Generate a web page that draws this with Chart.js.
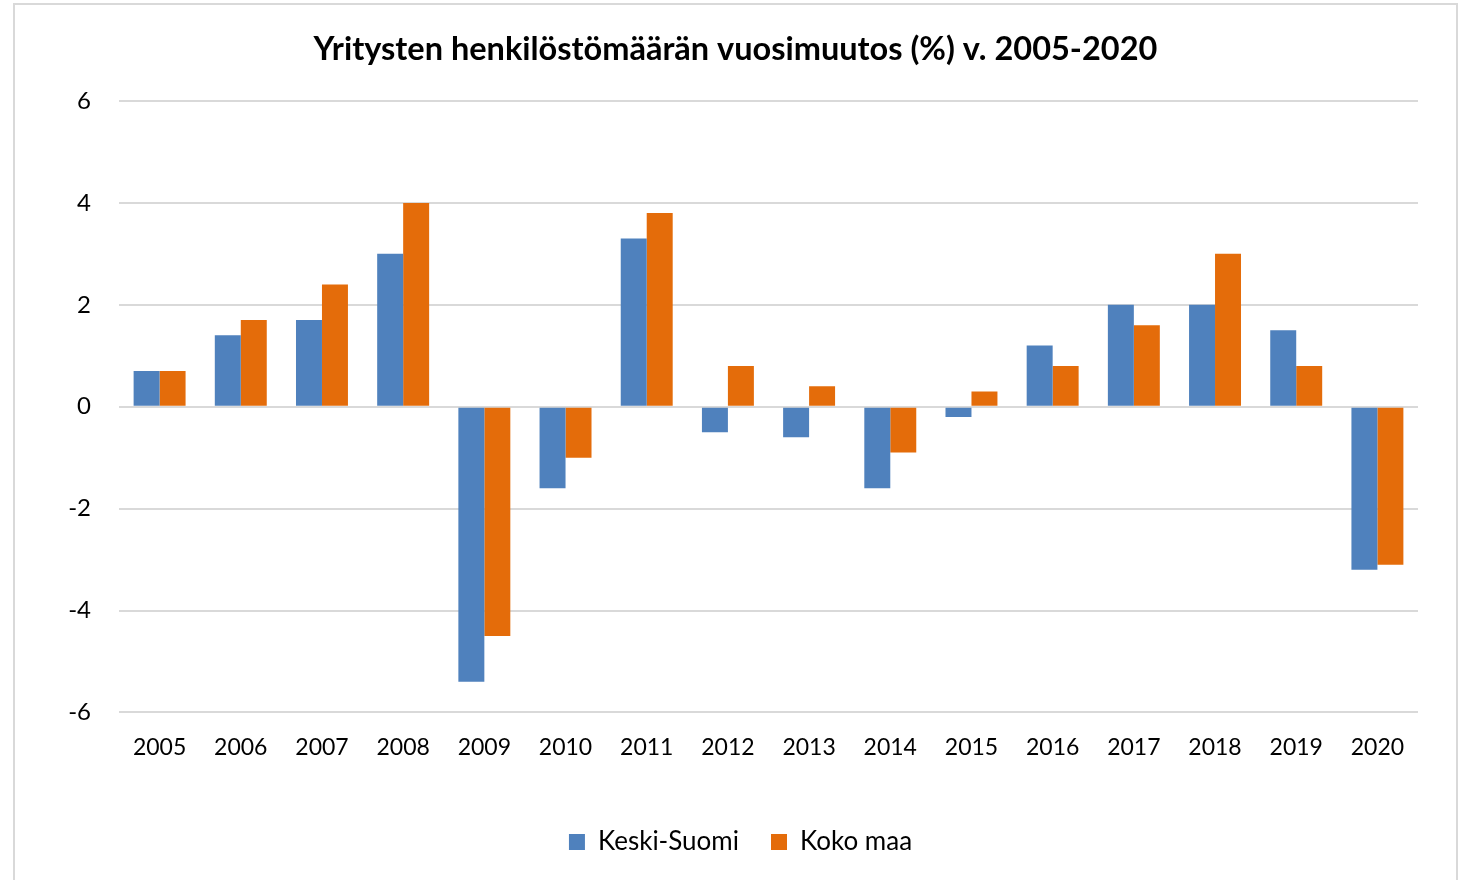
<!DOCTYPE html>
<html>
<head>
<meta charset="utf-8">
<script src="https://cdn.jsdelivr.net/npm/chart.js@4"></script>
<style>
html, body { margin: 0; padding: 0; background: #fff; overflow: hidden; }
#box { position: absolute; left: 13px; top: 3px; width: 1441px; height: 890px; border: 2px solid #d9d9d9; }
canvas { display: block; }
</style>
</head>
<body>
<div id="box"><canvas id="Chart1" width="1441" height="875"></canvas></div>
<script>
var years = ['2005','2006','2007','2008','2009','2010','2011','2012','2013','2014','2015','2016','2017','2018','2019','2020'];
var keskiSuomi = [0.7, 1.4, 1.7, 3.0, -5.4, -1.6, 3.3, -0.5, -0.6, -1.6, -0.2, 1.2, 2.0, 2.0, 1.5, -3.2];
var kokoMaa = [0.7, 1.7, 2.4, 4.0, -4.5, -1.0, 3.8, 0.8, 0.4, -0.9, 0.3, 0.8, 1.6, 3.0, 0.8, -3.1];
var seriesNames = ['Keski-Suomi', 'Koko maa'];
var chartTitle = 'Yritysten henkilöstömäärän vuosimuutos (%) v. 2005-2020';

// title and legend sit centred on the whole box, not on the plot area
var shiftBoxes = {
    id: 'shiftBoxes',
    afterLayout: function (chart) {
        chart.titleBlock.left += 19; chart.titleBlock.right += 19;
        chart.legend.left += 24; chart.legend.right += 24;
    }
};

window.onload = function () {
    buildpage();
}
function buildpage() {
    var fam = 'Lato, "Open Sans", sans-serif';
    var ctx = document.getElementById('Chart1').getContext('2d');
    var chart = new Chart(ctx, {
        type: 'bar',
        data: {
            labels: years,
            datasets: [
                {label: seriesNames[0], data: keskiSuomi, backgroundColor: '#4f81bd', borderWidth: 0},
                {label: seriesNames[1], data: kokoMaa, backgroundColor: '#e46c0a', borderWidth: 0}
            ]
        },
        options: {
            responsive: false,
            animation: false,
            layout: {padding: {left: 0, right: 38, top: 0, bottom: 15}},
            datasets: {bar: {categoryPercentage: 0.64, barPercentage: 1.0}},
            plugins: {
                title: {display: true, text: chartTitle, color: '#000', font: {family: fam, size: 32.5, weight: 'bold'}, padding: {top: 25, bottom: 32}},
                legend: {position: 'bottom', labels: {color: '#000', font: {family: fam, size: 26}, boxWidth: 16, boxHeight: 16, padding: 32}},
                tooltip: {enabled: false}
            },
            scales: {
                x: {
                    grid: {display: false, drawTicks: false},
                    border: {display: false},
                    ticks: {color: '#000', font: {family: fam, size: 23}, padding: 21},
                    afterFit: function (scale) { scale.height += 15; }
                },
                y: {
                    min: -6, max: 6,
                    grid: {color: '#d9d9d9', lineWidth: 2, drawTicks: false},
                    border: {display: false},
                    ticks: {stepSize: 2, color: '#000', font: {family: fam, size: 24}, padding: 28},
                    afterFit: function (scale) { scale.width = 104; }
                }
            }
        },
        plugins: [shiftBoxes]
    });
}
</script>
</body>
</html>
